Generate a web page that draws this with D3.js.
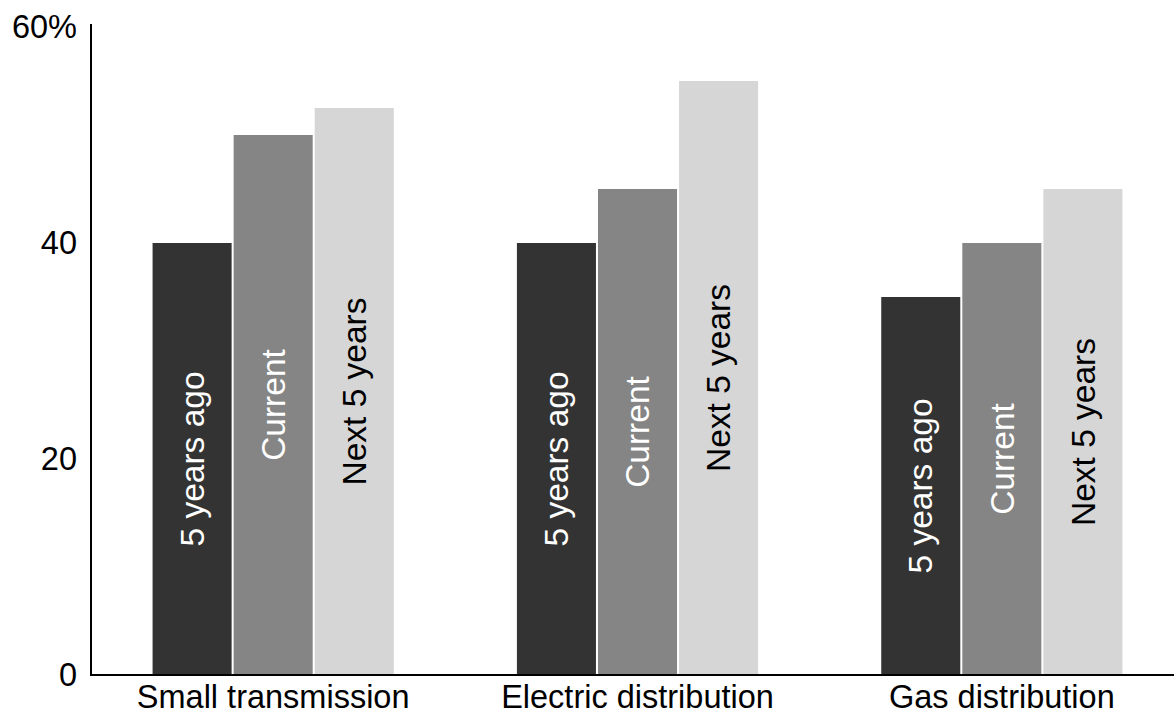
<!DOCTYPE html>
<html>
<head>
<meta charset="utf-8">
<script src="https://cdn.jsdelivr.net/npm/d3@7"></script>
<style>
  html, body { margin: 0; padding: 0; background: #fff; }
  svg { display: block; font-family: "Liberation Sans", Arial, sans-serif; }
</style>
</head>
<body>
<svg id="chart" width="1174" height="714"></svg>
<script>
const categories = ["Small transmission", "Electric distribution", "Gas distribution"];
const seriesNames = ["5 years ago", "Current", "Next 5 years"];
const fiveYearsAgo = [40, 40, 35];
const current = [50, 45, 40];
const nextFiveYears = [52.5, 55, 45];
const yTicks = [0, 20, 40, 60];
const yTickLabels = ["0", "20", "40", "60%"];
const seriesColors = ["#333333", "#858585", "#d6d6d6"];
const labelColors = ["#ffffff", "#ffffff", "#000000"];

(function () {
const seriesValues = [fiveYearsAgo, current, nextFiveYears];
const data = categories.map((c, i) => ({
  category: c,
  values: seriesNames.map((s, j) => ({ series: s, idx: j, value: seriesValues[j][i] }))
}));

const svg = d3.select("#chart");
const mLeft = 91, mBottom = 675, mTop = 27;

const y = d3.scaleLinear().domain([0, 60]).range([mBottom, mTop]);
const x0 = d3.scaleBand().domain(categories).range([mLeft, 1184]).paddingInner(0.338).paddingOuter(0.169);
const x1 = d3.scaleBand().domain(seriesNames).range([0, x0.bandwidth()]).paddingInner(0.025).paddingOuter(0);

const axisFont = 32.5;
const barFont = 33.5;

const groups = svg.append("g").selectAll("g").data(data).join("g")
  .attr("transform", d => `translate(${x0(d.category)},0)`);

groups.selectAll("rect").data(d => d.values).join("rect")
  .attr("x", d => x1(d.series))
  .attr("width", x1.bandwidth())
  .attr("y", d => y(d.value))
  .attr("height", d => y(0) - y(d.value))
  .attr("fill", d => seriesColors[d.idx]);

groups.selectAll("text").data(d => d.values).join("text")
  .attr("transform", d => `translate(${x1(d.series) + x1.bandwidth() / 2},${y(d.value / 2)}) rotate(-90)`)
  .attr("text-anchor", "middle")
  .attr("dy", "0.35em")
  .attr("font-size", barFont)
  .attr("fill", d => labelColors[d.idx])
  .text(d => d.series);

// y axis
const yAxis = d3.axisLeft(y).tickValues(yTicks).tickSize(0).tickPadding(14)
  .tickFormat((d, i) => yTickLabels[i]);
const yg = svg.append("g").attr("transform", `translate(${mLeft},0)`).call(yAxis);
yg.select(".domain").remove();
yg.selectAll("text").attr("font-size", axisFont).attr("fill", "#000")
  .attr("font-family", "Liberation Sans, Arial, sans-serif");
svg.append("line").attr("x1", mLeft).attr("x2", mLeft).attr("y1", 24).attr("y2", mBottom)
  .attr("stroke", "#000").attr("stroke-width", 2);

// x axis
const xAxis = d3.axisBottom(x0).tickSize(0).tickPadding(10);
const xg = svg.append("g").attr("transform", `translate(0,${mBottom})`).call(xAxis);
xg.select(".domain").remove();
xg.selectAll("text").attr("font-size", axisFont).attr("fill", "#000")
  .attr("font-family", "Liberation Sans, Arial, sans-serif");
svg.append("line").attr("x1", mLeft - 1).attr("x2", 1174).attr("y1", mBottom).attr("y2", mBottom)
  .attr("stroke", "#000").attr("stroke-width", 2);
})();
</script>
</body>
</html>
